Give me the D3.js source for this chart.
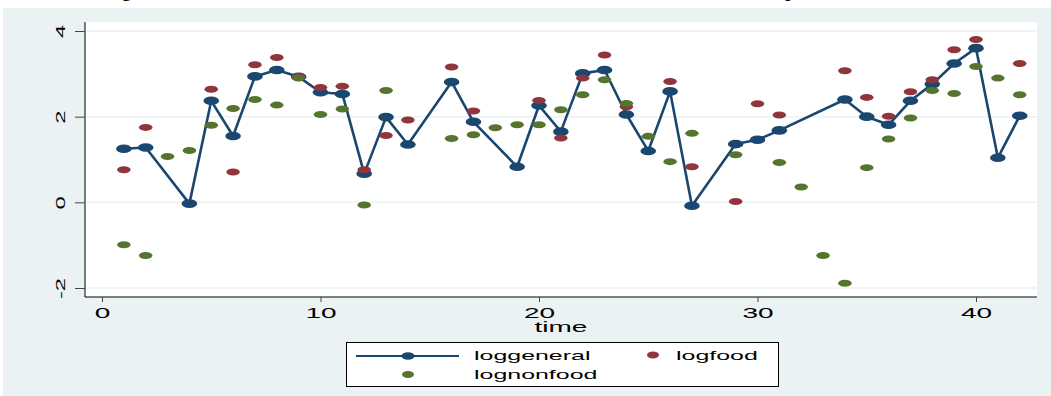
<!DOCTYPE html>
<html>
<head>
<meta charset="utf-8">
<script src="https://cdn.jsdelivr.net/npm/d3@7"></script>
<style>
  html, body { margin: 0; padding: 0; background: #ffffff; }
  svg { display: block; }
</style>
</head>
<body>
<svg id="chart" width="1051" height="396"></svg>
<script>
const time = d3.range(1, 43);
const loggeneral = [1.25,1.28,null,-0.03,2.37,1.55,2.94,3.09,2.93,2.57,2.53,0.67,1.99,1.35,null,2.81,1.88,null,0.83,2.26,1.65,3.01,3.09,2.05,1.20,2.59,-0.08,null,1.36,1.46,1.68,null,null,2.40,2.00,1.81,2.37,2.76,3.24,3.60,1.04,2.02];
const logfood = [0.76,1.75,null,null,2.64,0.71,3.21,3.38,2.94,2.68,2.71,0.76,1.56,1.92,null,3.16,2.13,null,null,2.38,1.50,2.90,3.44,2.23,null,2.82,0.83,null,0.02,2.30,2.04,null,null,3.07,2.45,2.01,2.58,2.86,3.56,3.80,null,3.24];
const lognonfood = [-0.99,-1.24,1.07,1.21,1.80,2.19,2.40,2.27,2.90,2.05,2.18,-0.06,2.61,null,null,1.49,1.58,1.74,1.81,1.81,2.16,2.51,2.86,2.31,1.54,0.95,1.61,null,1.11,null,0.93,0.36,-1.24,-1.89,0.81,1.48,1.97,2.61,2.54,3.17,2.90,2.51];
const xTicks = [0, 10, 20, 30, 40];
const yTicks = [-2, 0, 2, 4];
const seriesNames = ["loggeneral", "logfood", "lognonfood"];
const xTitle = "time";
const titleText = "Figure 2: The three CPI series, the food and non-food CPI indices in the whole test period,";

const C = { navy: "#1a476f", maroon: "#90353b", green: "#55752f", bg: "#eaf2f3", grid: "#eaf2f3" };
const svg = d3.select("#chart");
const font = "'Liberation Sans', Arial, sans-serif";
const SX = 2; // horizontal stretch of the texts in the reference

// cut-off title above the graph (only descenders visible in the reference)
svg.append("text").attr("x", 105).attr("y", -3)
  .attr("textLength", 738).attr("lengthAdjust", "spacing")
  .style("font-family", "'Liberation Serif', 'Times New Roman', serif")
  .style("font-weight", "bold").style("font-size", "18px").attr("fill", "#000")
  .text(titleText);

// graph region
svg.append("rect").attr("x", 3).attr("y", 8).attr("width", 1048).attr("height", 388).attr("fill", C.bg);

const plot = { left: 85, right: 1037, top: 22, bottom: 297 };
svg.append("rect").attr("x", plot.left).attr("y", plot.top)
  .attr("width", plot.right - plot.left).attr("height", plot.bottom - plot.top).attr("fill", "#fff");

const x = d3.scaleLinear().domain([0, 40]).range([102, 976]);
const y = d3.scaleLinear().domain([-2, 4]).range([288, 31]);

// gridlines
svg.append("g").selectAll("line").data(yTicks).join("line")
  .attr("x1", plot.left).attr("x2", plot.right)
  .attr("y1", d => y(d)).attr("y2", d => y(d))
  .attr("stroke", C.grid).attr("stroke-width", 1.5);

// y axis
const yAxis = svg.append("g").attr("transform", `translate(${plot.left},0)`)
  .call(d3.axisLeft(y).tickValues(yTicks).tickSize(10).tickFormat(d3.format("d")));
yAxis.select(".domain").attr("d", `M0,${plot.top}V${plot.bottom}`).attr("stroke", "#000");
yAxis.selectAll(".tick line").attr("stroke", "#444");
yAxis.selectAll(".tick text")
  .text(d => String(d).replace("\u2212", "-"))
  .attr("x", 0).attr("y", 0).attr("dy", null)
  .attr("transform", `translate(-24,0) rotate(-90) scale(1.9,1)`)
  .attr("text-anchor", "middle").attr("dominant-baseline", "central")
  .style("font-family", font).style("font-size", "12.5px").attr("fill", "#000");

// x axis
const xAxis = svg.append("g").attr("transform", `translate(0,${plot.bottom})`)
  .call(d3.axisBottom(x).tickValues(xTicks).tickSize(5).tickFormat(d3.format("d")));
xAxis.select(".domain").attr("d", `M${plot.left},0H${plot.right}`).attr("stroke", "#000");
xAxis.selectAll(".tick line").attr("stroke", "#444");
xAxis.selectAll(".tick text")
  .attr("y", 21).attr("dy", null).attr("transform", `scale(${SX},1)`)
  .style("font-family", font).style("font-size", "14px").attr("fill", "#000");

svg.append("text").attr("transform", `translate(561,332) scale(${SX},1)`).attr("text-anchor", "middle")
  .style("font-family", font).style("font-size", "14px").attr("fill", "#000").text(xTitle);

// data
const gen = time.map((t, i) => ({ t, v: loggeneral[i] })).filter(d => d.v !== null);
const food = time.map((t, i) => ({ t, v: logfood[i] })).filter(d => d.v !== null);
const nonfood = time.map((t, i) => ({ t, v: lognonfood[i] })).filter(d => d.v !== null);

const line = d3.line().x(d => x(d.t)).y(d => y(d.v));
svg.append("path").datum(gen).attr("d", line).attr("fill", "none")
  .attr("stroke", C.navy).attr("stroke-width", 2.6).attr("stroke-linejoin", "round");

svg.append("g").selectAll("ellipse").data(gen).join("ellipse")
  .attr("cx", d => x(d.t)).attr("cy", d => y(d.v)).attr("rx", 7.8).attr("ry", 4.3).attr("fill", C.navy);
svg.append("g").selectAll("ellipse").data(food).join("ellipse")
  .attr("cx", d => x(d.t)).attr("cy", d => y(d.v)).attr("rx", 6.8).attr("ry", 3.5).attr("fill", C.maroon);
svg.append("g").selectAll("ellipse").data(nonfood).join("ellipse")
  .attr("cx", d => x(d.t)).attr("cy", d => y(d.v)).attr("rx", 6.8).attr("ry", 3.5).attr("fill", C.green);

// legend
const lg = svg.append("g");
lg.append("rect").attr("x", 346.5).attr("y", 342.5).attr("width", 432).attr("height", 44)
  .attr("fill", "#fff").attr("stroke", "#000").attr("stroke-width", 1);
lg.append("line").attr("x1", 356).attr("x2", 459).attr("y1", 356).attr("y2", 356)
  .attr("stroke", C.navy).attr("stroke-width", 2);
lg.append("ellipse").attr("cx", 408).attr("cy", 356).attr("rx", 6.5).attr("ry", 3.8).attr("fill", C.navy);
lg.append("ellipse").attr("cx", 653).attr("cy", 355).attr("rx", 6).attr("ry", 3.4).attr("fill", C.maroon);
lg.append("ellipse").attr("cx", 408).attr("cy", 374.5).attr("rx", 6).attr("ry", 3.4).attr("fill", C.green);
const lt = [
  { x: 474, y: 360, s: seriesNames[0] },
  { x: 676, y: 360, s: seriesNames[1] },
  { x: 474, y: 379, s: seriesNames[2] }
];
lg.selectAll("text").data(lt).join("text")
  .attr("transform", d => `translate(${d.x},${d.y}) scale(${SX * 0.96},1)`)
  .style("font-family", font).style("font-size", "13px").attr("fill", "#000")
  .text(d => d.s);
</script>
</body>
</html>
